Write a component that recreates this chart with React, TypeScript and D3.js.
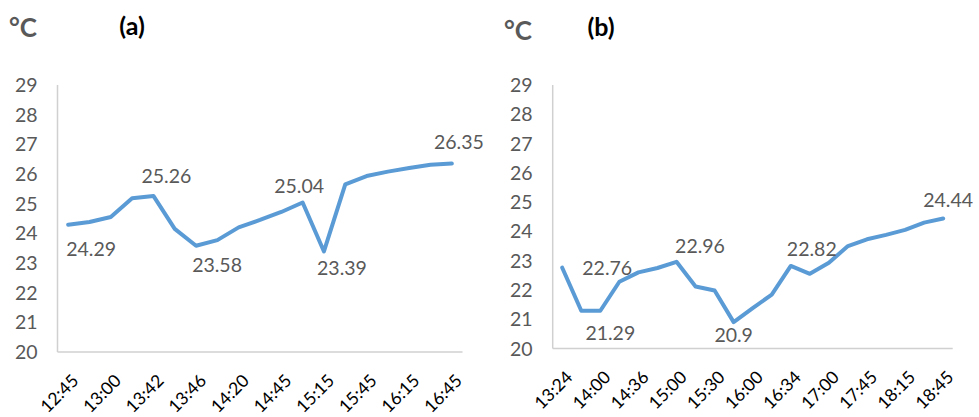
import React from "react";
import * as d3 from "d3";

const catsA = ["12:45","12:52","13:00","13:21","13:42","13:44","13:46","14:03","14:20","14:32","14:45","15:00","15:15","15:30","15:45","16:00","16:15","16:30","16:45"];
const valsA = [24.29,24.38,24.55,25.18,25.26,24.15,23.58,23.77,24.2,24.45,24.72,25.04,23.39,25.65,25.93,26.08,26.2,26.31,26.35];
const tickLabelsA = ["12:45","13:00","13:42","13:46","14:20","14:45","15:15","15:45","16:15","16:45"];

const catsB = ["13:24","13:42","14:00","14:18","14:36","14:48","15:00","15:15","15:30","15:45","16:00","16:17","16:34","16:47","17:00","17:22","17:45","18:00","18:15","18:30","18:45"];
const valsB = [22.76,21.29,21.29,22.28,22.6,22.75,22.96,22.12,21.98,20.9,21.38,21.84,22.82,22.55,22.93,23.5,23.73,23.88,24.05,24.3,24.44];
const tickLabelsB = ["13:24","14:00","14:36","15:00","15:30","16:00","16:34","17:00","17:45","18:15","18:45"];

const yTicks = [20,21,22,23,24,25,26,27,28,29];

// label placement: index, offset of text centre from point
const labelsA = [
  { i: 0, dx: 23, dy: 24 },
  { i: 4, dx: 13, dy: -19.5 },
  { i: 6, dx: 21, dy: 19.5 },
  { i: 11, dx: -3.5, dy: -16.5 },
  { i: 12, dx: 18, dy: 16.5 },
  { i: 18, dx: 7, dy: -21.5 },
];
const labelsB = [
  { i: 0, dx: 45, dy: 0 },
  { i: 2, dx: 10, dy: 22 },
  { i: 6, dx: 23.5, dy: -16 },
  { i: 9, dx: 0, dy: 12.5 },
  { i: 12, dx: 21, dy: -17 },
  { i: 20, dx: 5, dy: -18.5 },
];

const FONT = "Lato, 'Open Sans', sans-serif";
const GRAY = "#595959";

type PanelProps = {
  cats: string[];
  vals: number[];
  tickLabels: string[];
  labels: { i: number; dx: number; dy: number }[];
  x0: number;
  x1: number;
  yTop: number;
  yBottom: number;
  unitX: number;
  unitY: number;
  titleX: number;
  titleY: number;
  title: string;
};

function Panel(p: PanelProps) {
  const x = d3.scaleBand<string>().domain(p.cats).range([p.x0, p.x1]).paddingInner(0).paddingOuter(0);
  const y = d3.scaleLinear().domain([20, 29]).range([p.yBottom, p.yTop]);
  const cx = (c: string) => (x(c) as number) + x.bandwidth() / 2;
  const line = d3
    .line<number>()
    .x((_, i) => cx(p.cats[i]))
    .y((d) => y(d));
  const fs = 19.5;
  return (
    <g>
      <text x={p.unitX} y={p.unitY} fontFamily={FONT} fontWeight={700} fontSize={26} fill={GRAY}>
        °C
      </text>
      <text x={p.titleX} y={p.titleY} fontFamily={FONT} fontWeight={700} fontSize={25} fill="#000" textAnchor="middle">
        {p.title}
      </text>
      <line x1={p.x0} x2={p.x0} y1={y(29)} y2={p.yBottom} stroke="#d0d0d0" strokeWidth={1.5} />
      <line x1={p.x0} x2={p.x1} y1={p.yBottom} y2={p.yBottom} stroke="#d0d0d0" strokeWidth={1.5} />
      {yTicks.map((t) => (
        <text key={t} x={p.x0 - 20} y={y(t) + 7} textAnchor="end" fontFamily={FONT} fontSize={fs} fill={GRAY}>
          {t}
        </text>
      ))}
      {p.tickLabels.map((t) => {
        const tx = cx(t) + 2.5;
        const ty = p.yBottom + 21;
        return (
          <text
            key={t}
            transform={`translate(${tx},${ty}) rotate(-45)`}
            dy="0.72em"
            textAnchor="end"
            fontFamily={FONT}
            fontSize={17.5}
            fill="#000"
          >
            {t}
          </text>
        );
      })}
      <path d={line(p.vals) || ""} fill="none" stroke="#5B9BD5" strokeWidth={4} strokeLinejoin="round" strokeLinecap="round" />
      {p.labels.map((l) => (
        <text
          key={l.i}
          x={cx(p.cats[l.i]) + l.dx}
          y={y(p.vals[l.i]) + l.dy + 7}
          textAnchor="middle"
          fontFamily={FONT}
          fontSize={fs}
          fill={GRAY}
        >
          {String(p.vals[l.i])}
        </text>
      ))}
    </g>
  );
}

export default function App() {
  return (
    <div style={{ position: "absolute", left: 0, top: 0 }}>
      <svg width={979} height={417} style={{ display: "block", background: "#fff" }}>
        <Panel
          cats={catsA}
          vals={valsA}
          tickLabels={tickLabelsA}
          labels={labelsA}
          x0={57.5}
          x1={462.5}
          yTop={85}
          yBottom={352}
          unitX={9}
          unitY={37}
          titleX={132}
          titleY={35}
          title="(a)"
        />
        <Panel
          cats={catsB}
          vals={valsB}
          tickLabels={tickLabelsB}
          labels={labelsB}
          x0={552.7}
          x1={952.7}
          yTop={85}
          yBottom={348.5}
          unitX={504}
          unitY={40}
          titleX={601}
          titleY={36}
          title="(b)"
        />
      </svg>
    </div>
  );
}
